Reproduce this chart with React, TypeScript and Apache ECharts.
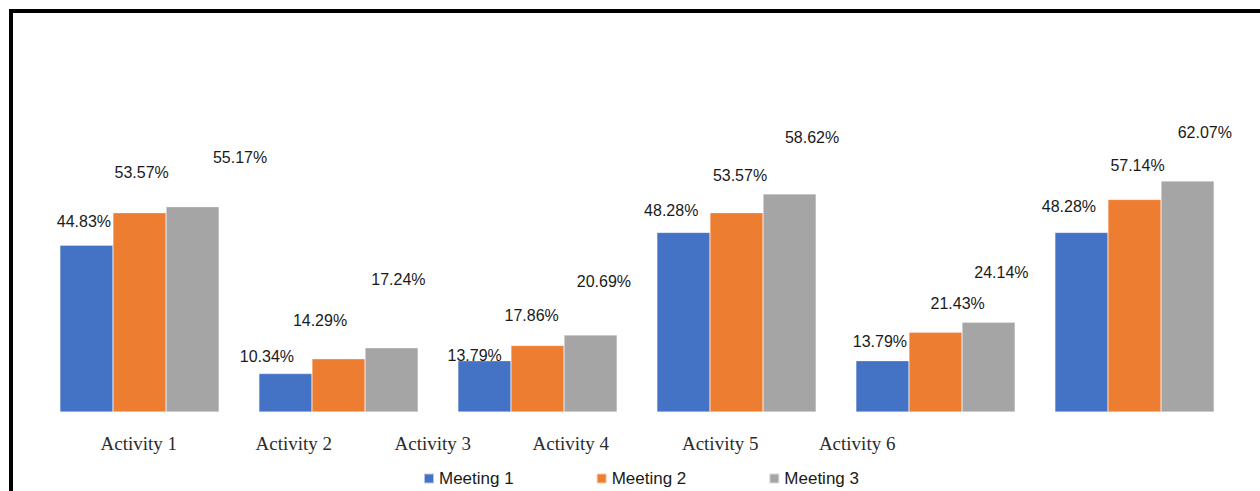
import React, { useEffect, useRef } from "react";
import * as echarts from "echarts";

const categories = ["Activity 1", "Activity 2", "Activity 3", "Activity 4", "Activity 5", "Activity 6"];
const seriesNames = ["Meeting 1", "Meeting 2", "Meeting 3"];
const meeting1 = [44.83, 10.34, 13.79, 48.28, 13.79, 48.28];
const meeting2 = [53.57, 14.29, 17.86, 53.57, 21.43, 57.14];
const meeting3 = [55.17, 17.24, 20.69, 58.62, 24.14, 62.07];

// label nudges (style only): [dx, dy] of label centre relative to bar top-centre
const labelNudges1 = [[-2.5, -24], [-18.5, -16.7], [-9.8, -5.7], [-12.2, -22.3], [-2.5, -19], [-12.5, -25.7]];
const labelNudges2 = [[2.2, -40], [-18.5, -38.7], [-5.8, -30.3], [3.5, -37.7], [22.2, -28.7], [3, -33.7]];
const labelNudges3 = [[47.5, -49.3], [6.8, -68.3], [13.3, -54], [22.5, -56.3], [12.8, -50], [17.2, -49]];
// category-label horizontal nudges (style only)
const tickNudges = [0, 11.3, 6.6, 0.9, 6.7, 0];

const colors = ["#4472C4", "#ED7D31", "#A5A5A5"];
const sans = "'Liberation Sans', Arial, sans-serif";
const serif = "'Liberation Serif', 'Times New Roman', serif";

export default function App() {
  const ref = useRef<HTMLDivElement>(null);
  useEffect(() => {
    if (!ref.current) return;
    const chart = echarts.init(ref.current, null, { renderer: "svg" });
    const values = [meeting1, meeting2, meeting3];
    const nudges = [labelNudges1, labelNudges2, labelNudges3];
    const rich: any = {};
    tickNudges.forEach((d, i) => {
      rich["s" + i] = {
        fontFamily: serif,
        fontSize: 19,
        color: "#2b2b2b",
        padding: [0, 0, 0, 2 * d],
      };
    });
    chart.setOption({
      animation: false,
      backgroundColor: "#ffffff",
      grid: [
        { left: 40, right: 26, top: 40, bottom: 79 },
        { left: 67, width: 862, top: 40, bottom: 79 },
      ],
      legend: {
        data: seriesNames,
        left: 423,
        top: 470,
        padding: 0,
        itemWidth: 10,
        itemHeight: 10,
        itemGap: 82,
        icon: "rect",
        textStyle: { fontFamily: sans, fontSize: 17, color: "#1a1a1a" },
      },
      xAxis: [
        {
          type: "category",
          gridIndex: 0,
          data: categories,
          axisLine: { show: false },
          axisTick: { show: false },
          axisLabel: { show: false },
          splitLine: { show: false },
        },
        {
          type: "category",
          gridIndex: 1,
          data: categories,
          axisLine: { show: false },
          axisTick: { show: false },
          splitLine: { show: false },
          axisLabel: {
            margin: 22,
            interval: 0,
            formatter: (v: string, i: number) => `{s${i}|${v}}`,
            rich,
          },
        },
      ],
      yAxis: [
        { type: "value", gridIndex: 0, min: 0, max: 100, show: false, splitLine: { show: false } },
        { type: "value", gridIndex: 1, min: 0, max: 100, show: false, splitLine: { show: false } },
      ],
      series: seriesNames.map((name, s) => ({
        name,
        type: "bar",
        xAxisIndex: 0,
        yAxisIndex: 0,
        barGap: "0%",
        barCategoryGap: "20%",
        itemStyle: { color: colors[s], borderColor: "rgba(255,255,255,0.6)", borderWidth: 0.5 },
        data: values[s].map((v, i) => ({
          value: v,
          label: {
            show: true,
            position: ["50%", 0],
            align: "center",
            verticalAlign: "middle",
            offset: nudges[s][i],
            formatter: (p: any) => `${Number(p.value).toFixed(2)}%`,
            fontFamily: sans,
            fontSize: 16,
            color: "#1a1a1a",
          },
        })),
      })),
      graphic: [
        {
          type: "rect",
          shape: { x: 11, y: 11, width: 1400, height: 800 },
          style: { fill: "none", stroke: "#000000", lineWidth: 4 },
          silent: true,
        },
      ],
    });
    return () => chart.dispose();
  }, []);
  return (
    <div
      ref={ref}
      style={{ position: "fixed", left: 0, top: 0, width: 1260, height: 491, background: "#fff" }}
    />
  );
}
